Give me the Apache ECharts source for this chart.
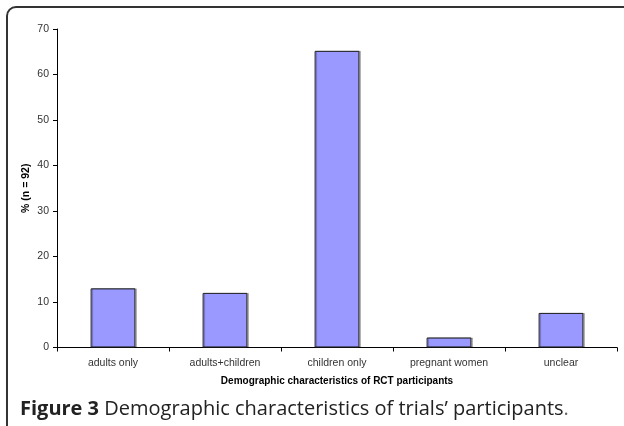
<!DOCTYPE html>
<html>
<head>
<meta charset="utf-8">
<script src="https://cdn.jsdelivr.net/npm/echarts@6/dist/echarts.min.js"></script>
<style>
html,body{margin:0;padding:0;background:#fff;}
#chart{width:624px;height:426px;}
</style>
</head>
<body>
<div id="chart"></div>
<script>
const categories = ['adults only', 'adults+children', 'children only', 'pregnant women', 'unclear'];
const percentValues = [13.0, 12.0, 65.2, 2.2, 7.6];
const yTicks = { min: 0, max: 70, interval: 10 };
const xAxisTitle = 'Demographic characteristics of RCT participants';
const yAxisTitle = '% (n = 92)';
const captionBold = 'Figure 3';
const captionText = ' Demographic characteristics of trials\u2019 participants';

const chart = echarts.init(document.getElementById('chart'), null, { renderer: 'canvas' });
chart.setOption({
  animation: false,
  backgroundColor: '#fff',
  grid: { left: 57, right: 7, top: 29, bottom: 78.5, containLabel: false },
  xAxis: {
    type: 'category',
    data: categories,
    axisLine: { lineStyle: { color: '#000', width: 1 } },
    axisTick: { show: true, length: 4, alignWithLabel: false, lineStyle: { color: '#000' } },
    axisLabel: { color: '#333', fontFamily: 'Liberation Sans', fontSize: 10.5, margin: 10 },
    name: xAxisTitle,
    nameLocation: 'middle',
    nameGap: 29,
    nameMoveOverlap: false,
    nameTextStyle: { fontFamily: 'Liberation Sans', fontWeight: 'bold', fontSize: 10, color: '#000' }
  },
  yAxis: {
    type: 'value',
    min: yTicks.min, max: yTicks.max, interval: yTicks.interval,
    splitLine: { show: false },
    axisLine: { show: true, lineStyle: { color: '#000', width: 1 } },
    axisTick: { show: true, length: 4, inside: false, lineStyle: { color: '#000' } },
    axisLabel: { color: '#333', fontFamily: 'Liberation Sans', fontSize: 10.5, margin: 8 },
    name: yAxisTitle,
    nameLocation: 'middle',
    nameGap: 25,
    nameRotate: 90,
    nameMoveOverlap: false,
    nameTextStyle: { fontFamily: 'Liberation Sans', fontWeight: 'bold', fontSize: 10.5, color: '#000' }
  },
  series: [{
    type: 'bar',
    data: percentValues,
    barWidth: '40%',
    itemStyle: {
      color: '#9999FF',
      borderColor: '#222',
      borderWidth: 1,
      shadowColor: 'rgba(0,0,0,0.25)',
      shadowOffsetX: 1.5,
      shadowOffsetY: 0,
      shadowBlur: 0
    }
  }],
  graphic: [
    {
      type: 'rect',
      shape: { x: 7, y: 7, width: 700, height: 500, r: 9 },
      style: { fill: 'none', stroke: '#333', lineWidth: 2 },
      silent: true
    },
    {
      type: 'text',
      left: 20,
      top: 399,
      style: {
        text: '{b|' + captionBold + '}{r|' + captionText + '}{p|.}',
        rich: {
          b: { fontFamily: 'Open Sans', fontWeight: 'bold', fontSize: 20, fill: '#222' },
          r: { fontFamily: 'Open Sans', fontSize: 20, fill: '#222' },
          p: { fontFamily: 'Open Sans', fontSize: 20, fill: '#666' }
        }
      }
    }
  ]
});
</script>
</body>
</html>
